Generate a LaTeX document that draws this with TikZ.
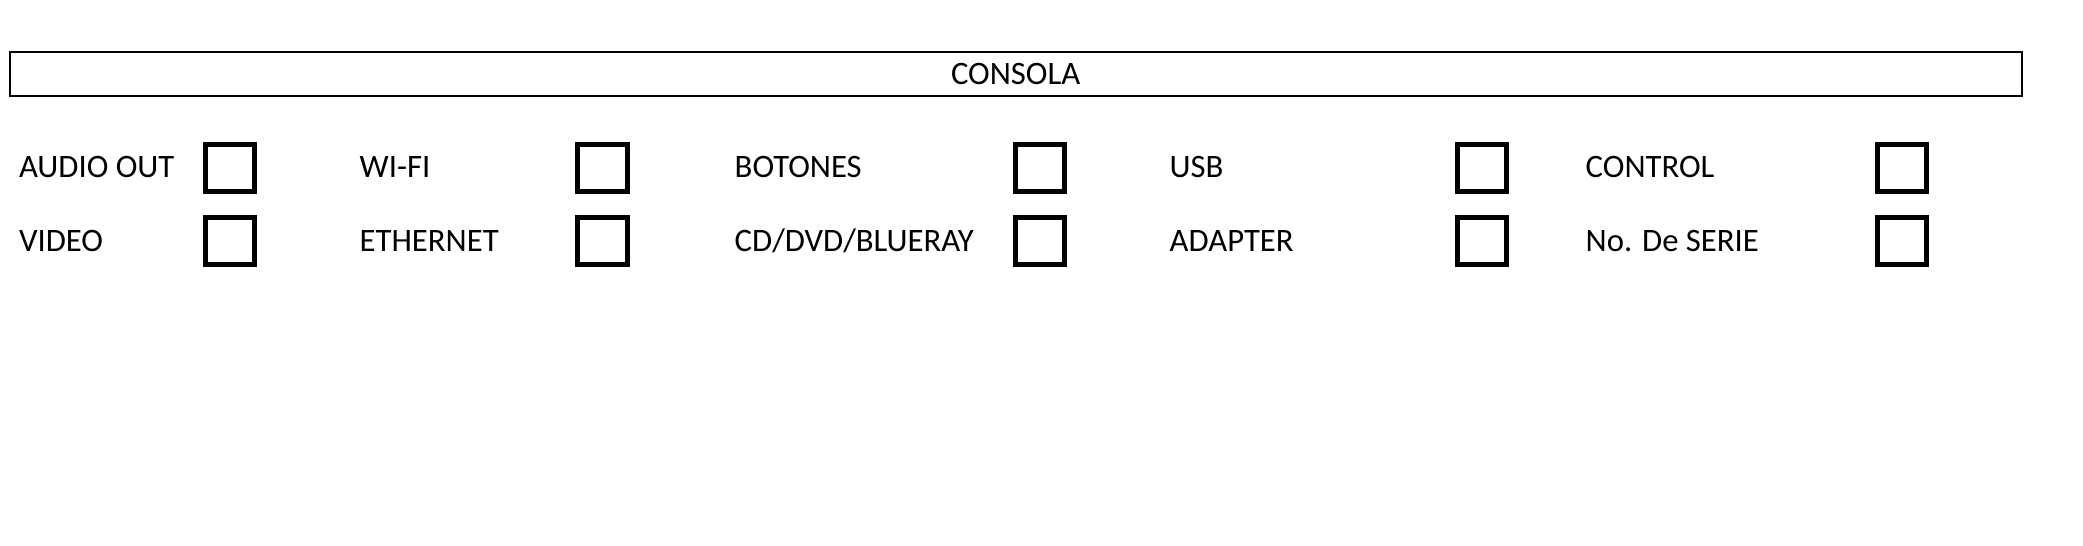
\documentclass[tikz,border=0pt]{standalone}
\usepackage{fontspec}
\setmainfont{Carlito}
\usetikzlibrary{positioning}

\begin{document}
\begin{tikzpicture}[x=0.01cm, y=-0.01cm, every node/.style={font=\fontsize{9.3}{11}\selectfont},
  casilla/.style={draw, line width=0.05cm, minimum width=0.49cm, minimum height=0.47cm, inner sep=0pt},
  etiqueta/.style={anchor=base west, inner sep=0pt}]
  \useasboundingbox (0,0) rectangle (2083,546);

  % Encabezado
  \node[draw, line width=0.02cm, minimum width=20.107cm, minimum height=0.446cm, inner sep=0pt,
        text height=5.9pt, text depth=0pt] (consola) at (1015.65,74) {CONSOLA};

  % Opciones (fila superior / fila inferior)
  \foreach \a/\b/\xe/\xc [count=\i] in {AUDIO OUT/VIDEO/18.3/230, WI-FI/ETHERNET/359/602.5,
      BOTONES/CD{/}DVD{/}BLUERAY/734/1040, USB/ADAPTER/1169/1481.5, CONTROL/No. De SERIE/1585/1902}
  {
    \node[etiqueta] (a\i) at (\xe,177.7) {\a};
    \node[etiqueta] (b\i) at (\xe,251.7) {\b};
    \node[casilla] (ca\i) at (\xc,168) {};
    \node[casilla] (cb\i) at (\xc,241) {};
  }

\end{tikzpicture}
\end{document}
